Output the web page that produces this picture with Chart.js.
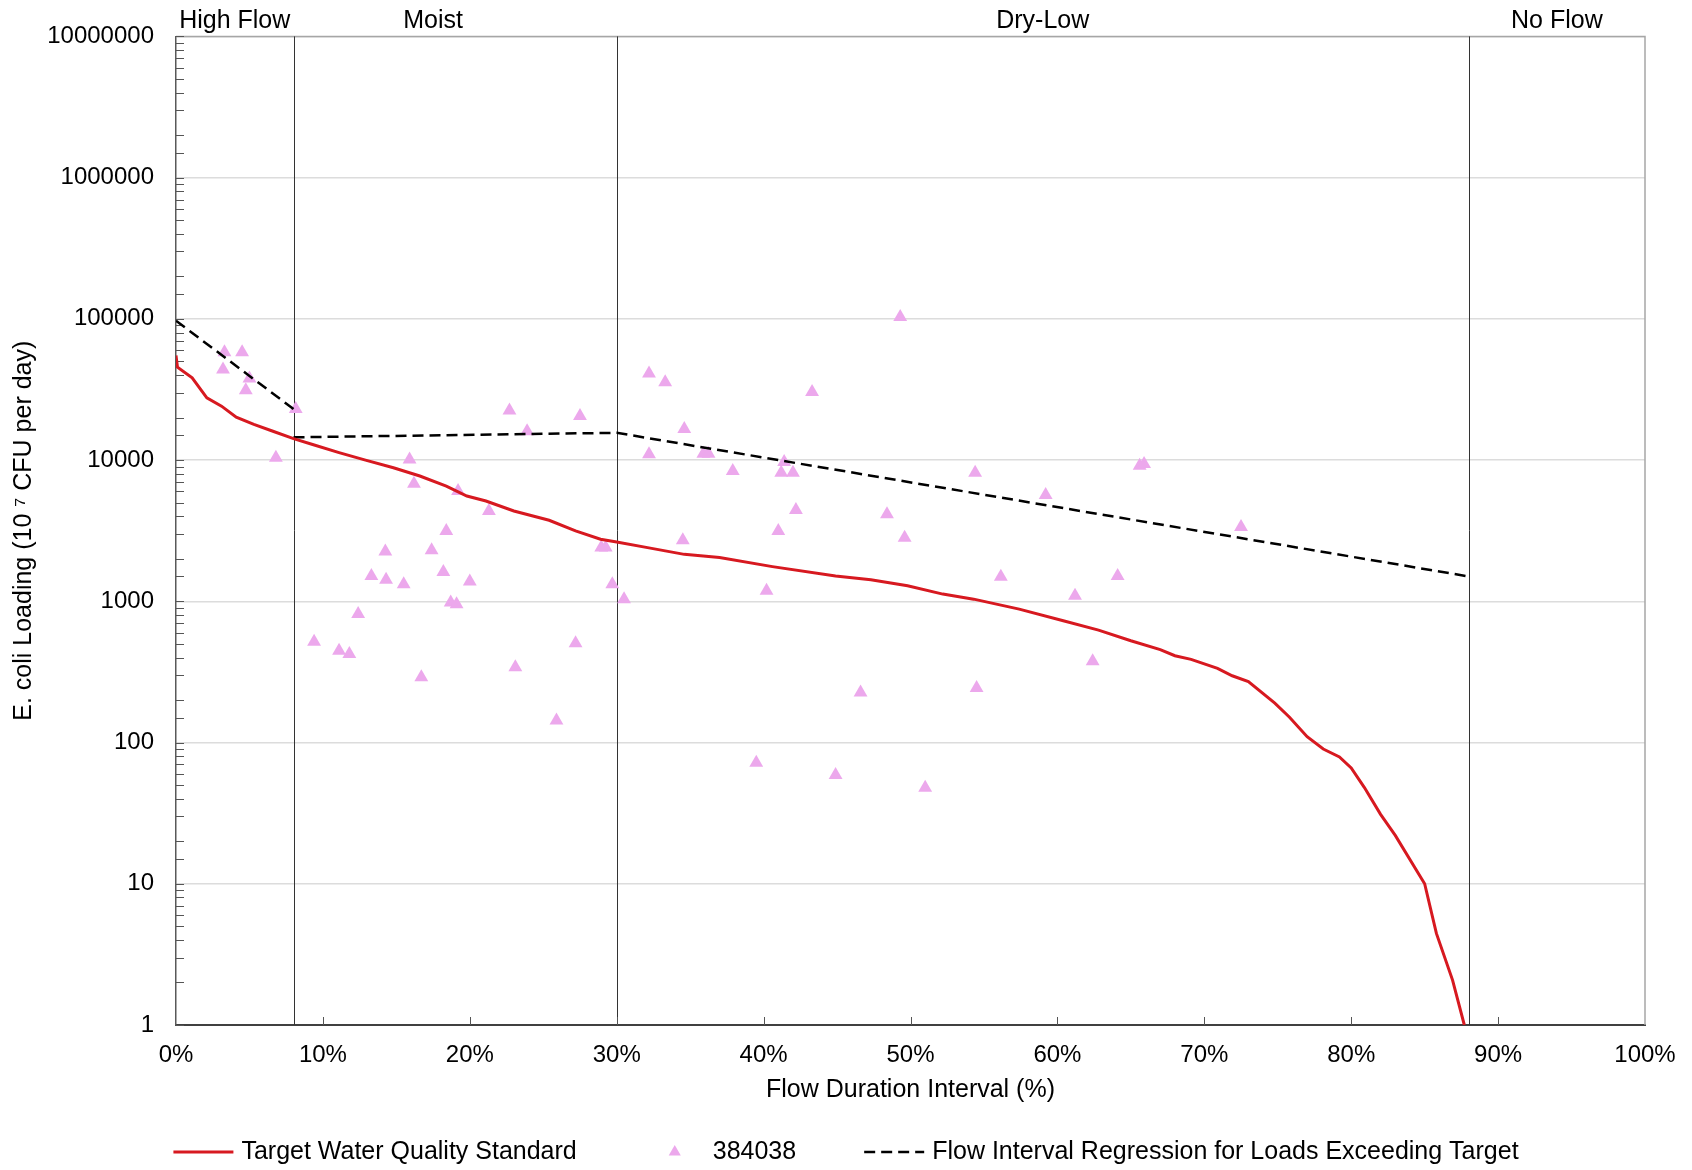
<!DOCTYPE html>
<html>
<head>
<meta charset="utf-8">
<title>E. coli load duration curve</title>
<script src="https://cdn.jsdelivr.net/npm/chart.js@4.4.1/dist/chart.umd.min.js"></script>
<style>
  body { margin: 0; background: #fff; }
  #wrap { width: 1692px; height: 1170px; }
</style>
</head>
<body>
<div id="wrap"><canvas id="ldc"></canvas></div>
<script>
// target water quality standard curve (flow duration %, load)
const targetPct = [0, 0.1, 1.1, 2.1, 3.1, 4.1, 5.3, 6.6, 8.0, 9.3, 11.1, 12.9, 14.8, 16.6, 18.4, 19.8,
  21.1, 23.0, 25.4, 27.2, 28.9, 30.0, 32.1, 34.6, 37.0, 40.6, 44.9, 47.3, 49.8, 52.2, 54.3, 57.4,
  60.4, 62.8, 65.0, 67.0, 68.0, 69.1, 70.9, 71.9, 73.0, 74.8, 75.8, 77.0, 78.1, 79.2, 80.0, 80.9,
  82.0, 83.0, 85.0, 85.8, 86.9, 87.7]
const targetLoad = [55000, 45500, 38200, 27600, 24100, 20100, 17900, 16000, 14200, 12900, 11300, 10000, 8830, 7710, 6550, 5570,
  5130, 4360, 3750, 3150, 2750, 2630, 2400, 2150, 2040, 1760, 1510, 1420, 1290, 1125, 1036, 880,
  728, 625, 526, 455, 412, 388, 335, 297, 270, 190, 151, 110, 90, 79, 66, 48,
  31, 22, 10, 4.45, 2.08, 1]

// regression for loads exceeding target (null = break between segments)
const regPct = [0, 8, 8, 8, 30, 88]
const regLoad = [97000, 23000, null, 14500, 15600, 1500]

// samples, station 384038
const samplePct = [3.3, 4.5, 3.2, 5.0, 4.75, 8.15, 6.8, 15.9, 16.2, 19.2, 21.3, 18.4, 14.25, 17.4, 13.3, 14.3,
  15.5, 18.2, 20.0, 18.7, 19.1, 12.4, 9.4, 11.1, 11.8, 16.7, 22.7, 23.9, 27.5, 23.1, 25.9, 27.2,
  28.95, 29.25, 29.7, 30.5, 32.2, 33.3, 32.2, 34.6, 35.9, 36.25, 37.9, 41.4, 41.2, 42.0, 43.3, 49.3,
  34.5, 41.0, 42.2, 40.2, 39.5, 44.9, 46.6, 48.4, 49.6, 51.0, 54.4, 54.5, 56.15, 59.2, 61.2, 62.4,
  64.1, 65.6, 65.9, 72.5]
const sampleLoad = [58000, 58000, 43800, 37800, 31200, 23000, 10400, 10100, 6800, 6040, 4360, 3150, 2250, 2300, 1510, 1420,
  1320, 1610, 1380, 982, 955, 812, 517, 447, 424, 290, 22400, 16000, 20500, 341, 143, 504,
  2400, 2400, 1320, 1036, 41000, 35600, 11000, 16600, 11100, 11100, 8360, 9680, 8140, 8140, 30400, 103000,
  2710, 3150, 4430, 1190, 72, 59, 226, 4130, 2820, 47.8, 8140, 243, 1490, 5660, 1093, 376,
  1510, 9100, 9400, 3360]

const zoneNames = ['High Flow', 'Moist', 'Dry-Low', 'No Flow']
const zoneLabelAt = [4, 17.5, 59, 94]
const zoneBreaks = [8, 30, 88]

const FONT = "'Liberation Sans', Arial, sans-serif"
Chart.defaults.font.family = FONT
Chart.defaults.color = '#000'

const toPoints = (xs, ys) => xs.map((x, i) => ({ x: x, y: ys[i] }))
const isDecade = v => { const l = Math.log10(v); return Math.abs(l - Math.round(l)) < 1e-9 }

const zonePlugin = {
  id: 'zones',
  beforeDatasetsDraw(chart) {
    const { ctx, chartArea: a, scales: { x, y } } = chart
    ctx.save()
    // top and right frame
    ctx.strokeStyle = '#a6a6a6'
    ctx.lineWidth = 1.5
    ctx.beginPath()
    ctx.moveTo(a.left, a.top)
    ctx.lineTo(a.right, a.top)
    ctx.lineTo(a.right, a.bottom)
    ctx.stroke()
    // flow zone dividers
    ctx.strokeStyle = '#333'
    ctx.lineWidth = 1
    zoneBreaks.forEach(b => {
      const px = Math.round(x.getPixelForValue(b)) + 0.5
      ctx.beginPath()
      ctx.moveTo(px, a.top)
      ctx.lineTo(px, a.bottom)
      ctx.stroke()
    })
    // inner tick marks
    ctx.strokeStyle = '#555'
    y.ticks.forEach(t => {
      const py = Math.round(y.getPixelForValue(t.value)) + 0.5
      ctx.beginPath()
      ctx.moveTo(a.left, py)
      ctx.lineTo(a.left + 8, py)
      ctx.stroke()
    })
    x.ticks.forEach(t => {
      if (t.value <= 0 || t.value >= 100) return
      const px = Math.round(x.getPixelForValue(t.value)) + 0.5
      ctx.beginPath()
      ctx.moveTo(px, a.bottom)
      ctx.lineTo(px, a.bottom - 8)
      ctx.stroke()
    })
    ctx.restore()
  },
  afterDraw(chart) {
    const { ctx, chartArea: a, scales: { x } } = chart
    ctx.save()
    ctx.fillStyle = '#000'
    ctx.font = '25px ' + FONT
    ctx.textBaseline = 'middle'
    ctx.textAlign = 'center'
    zoneNames.forEach((n, i) => ctx.fillText(n, x.getPixelForValue(zoneLabelAt[i]), a.top - 15))

    // legend: red line, triangles, dashed line
    const ds = chart.data.datasets
    const items = [ds[0], ds[2], ds[1]]
    const sample = 60, gap = 8, between = 68, ly = 1152
    ctx.textAlign = 'left'
    const widths = items.map(d => ctx.measureText(d.label).width)
    const total = items.length * (sample + gap) + widths.reduce((s, w) => s + w, 0) + between * (items.length - 1)
    let lx = (chart.width - total) / 2
    items.forEach((d, i) => {
      if (d.showLine) {
        ctx.save()
        ctx.strokeStyle = d.borderColor
        ctx.lineWidth = d.borderWidth
        ctx.setLineDash(d.borderDash || [])
        ctx.beginPath()
        ctx.moveTo(lx, ly)
        ctx.lineTo(lx + sample, ly)
        ctx.stroke()
        ctx.restore()
      } else {
        ctx.save()
        ctx.fillStyle = d.backgroundColor
        Chart.helpers.drawPoint(ctx, { pointStyle: 'triangle', radius: 7, borderWidth: 0, rotation: 0 }, lx + sample / 2, ly)
        ctx.restore()
      }
      ctx.fillText(d.label, lx + sample + gap, ly)
      lx += sample + gap + widths[i] + between
    })
    ctx.restore()
  }
}

new Chart(document.getElementById('ldc'), {
  type: 'scatter',
  data: {
    datasets: [
      {
        label: 'Target Water Quality Standard',
        data: toPoints(targetPct, targetLoad),
        showLine: true,
        borderColor: '#d71920',
        borderWidth: 3,
        pointRadius: 0,
        tension: 0
      },
      {
        label: 'Flow Interval Regression for Loads Exceeding Target',
        data: toPoints(regPct, regLoad),
        showLine: true,
        spanGaps: false,
        borderColor: '#000',
        borderWidth: 2.5,
        borderDash: [11, 6],
        pointRadius: 0
      },
      {
        label: '384038',
        data: toPoints(samplePct, sampleLoad),
        pointStyle: 'triangle',
        pointRadius: 8,
        backgroundColor: '#eca8ec',
        borderWidth: 0
      }
    ]
  },
  options: {
    responsive: true,
    maintainAspectRatio: false,
    animation: false,
    layout: { padding: { left: 0, top: 35, right: 47, bottom: 65 } },
    plugins: {
      legend: { display: false },
      tooltip: { enabled: false }
    },
    scales: {
      x: {
        type: 'linear',
        min: 0,
        max: 100,
        ticks: {
          stepSize: 10,
          padding: 16,
          font: { size: 24 },
          callback: v => v + '%'
        },
        grid: { drawOnChartArea: false, drawTicks: false },
        border: { color: '#404040', width: 2 },
        title: { display: true, text: 'Flow Duration Interval (%)', font: { size: 25 }, padding: { top: 0, bottom: 0 } },
        afterFit: s => { s.height = 80 }
      },
      y: {
        type: 'logarithmic',
        min: 1,
        max: 10000000,
        ticks: {
          autoSkip: false,
          padding: 22,
          font: { size: 24 },
          callback: v => isDecade(v) ? String(Math.round(v)) : ''
        },
        grid: {
          drawTicks: false,
          lineWidth: 1.5,
          color: c => (c.tick && isDecade(c.tick.value)) ? '#dcdcdc' : 'rgba(0,0,0,0)'
        },
        border: { color: '#595959', width: 1.5 },
        title: { display: true, text: 'E. coli Loading (10 \u2077 CFU per day)', font: { size: 25 }, padding: { top: 9, bottom: 0 } },
        afterFit: s => { s.width = 176 }
      }
    }
  },
  plugins: [zonePlugin]
})
</script>
</body>
</html>
